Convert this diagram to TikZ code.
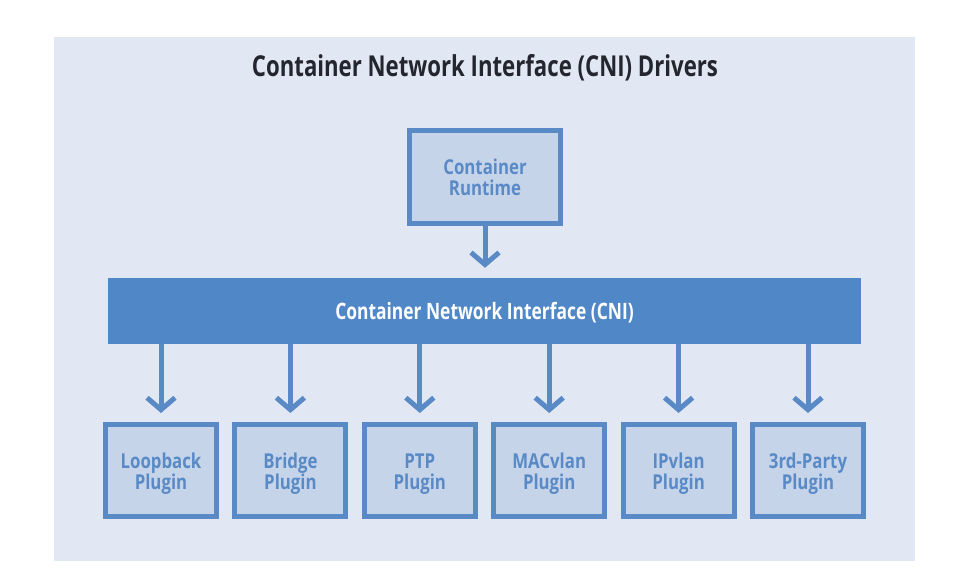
\documentclass[tikz,border=0pt]{standalone}
\usepackage{fontspec}
\usetikzlibrary{arrows.meta,positioning}
\newfontfamily\condfont{Open Sans}[FakeStretch=0.77]
\newfontfamily\boxfont{Open Sans}[FakeStretch=0.82]
\definecolor{panelbg}{HTML}{E1E8F3}
\definecolor{boxfill}{HTML}{C6D4EA}
\definecolor{boxline}{HTML}{5A8AC6}
\definecolor{barfill}{HTML}{5087C7}
\definecolor{titlecol}{HTML}{23262E}
% label font for the outlined boxes: fixed line pitch, no extra lineskip
\newcommand\boxlabelfont[1]{\boxfont\bfseries\fontsize{20.5}{#1}\selectfont\lineskiplimit=-30pt\relax}
% two-line label with struts that set the text's vertical place in its box
\newcommand\twolines[3]{\rule{0pt}{#1}#2\\#3\rule[-5.5pt]{0pt}{5.5pt}}
\begin{document}
\begin{tikzpicture}[x=1pt,y=-1pt,
  outlined/.style={draw=boxline, fill=boxfill, line width=5pt,
    inner sep=0pt, align=center, text=boxline},
  plugin/.style={outlined, minimum width=111pt, minimum height=92pt,
    font=\boxlabelfont{20.5pt}},
  runtimebox/.style={outlined, minimum width=151pt, minimum height=93pt,
    font=\boxlabelfont{21pt}},
  flow/.style={draw=boxline, line width=5pt,
    -{Straight Barb[length=12pt,width=28pt]}}
]
% canvas and panel
\useasboundingbox (0,0) rectangle (961,582);
\fill[white] (0,0) rectangle (961,582);
\fill[panelbg] (54,37) rectangle (915,561);

% title
\node[text=titlecol, font=\condfont\bfseries\fontsize{28.8}{32}\selectfont]
  (title) at (485,68) {Container Network Interface (CNI) Drivers};

% runtime box
\node[runtimebox] (runtime) at (485,177) {\twolines{21.5pt}{Container}{Runtime}};

% CNI bar
\node[fill=barfill, minimum width=753pt, minimum height=66pt, inner sep=0pt,
  text=white, text height=21pt, text depth=5pt,
  font=\condfont\bfseries\fontsize{22.6}{24}\selectfont]
  (cni) at (484.5,311) {Container Network Interface (CNI)};

% plugin boxes
\node[plugin] (p1) at (161,470.5)   {\twolines{22pt}{Loopback}{Plugin}};
\node[plugin] (p2) at (290.4,470.5) {\twolines{22pt}{Bridge}{Plugin}};
\node[plugin] (p3) at (419.8,470.5) {\twolines{22pt}{PTP}{Plugin}};
\node[plugin] (p4) at (549.2,470.5) {\twolines{22pt}{MACvlan}{Plugin}};
\node[plugin] (p5) at (678.6,470.5) {\twolines{22pt}{IPvlan}{Plugin}};
\node[plugin] (p6) at (808,470.5)   {\twolines{22pt}{3rd-Party}{Plugin}};

% connectors
\draw[flow, shorten >=10pt] (runtime.south) -- (runtime.south |- cni.north);
\foreach \p in {p1,p2,p3,p4,p5,p6}
  \draw[flow, shorten >=9pt] (cni.south -| \p.north) -- (\p.north);
\end{tikzpicture}
\end{document}
